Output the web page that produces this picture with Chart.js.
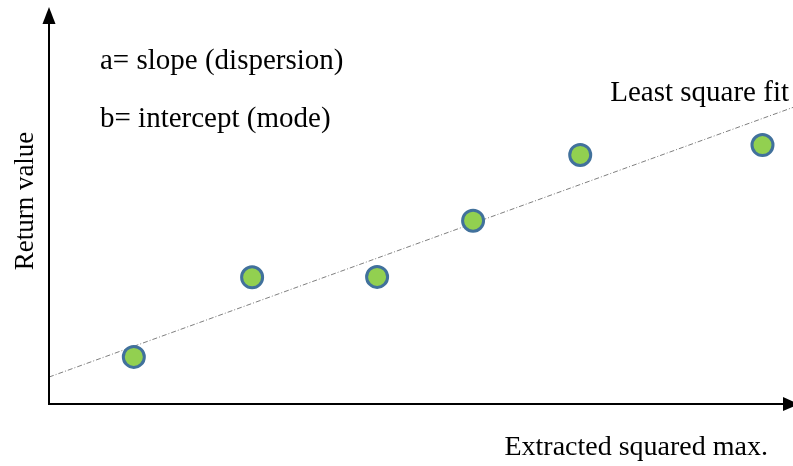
<!DOCTYPE html>
<html>
<head>
<meta charset="utf-8">
<script src="https://cdn.jsdelivr.net/npm/chart.js@4/dist/chart.umd.min.js"></script>
<style>
  html, body { margin: 0; padding: 0; background: #ffffff; overflow: hidden; }
  canvas { display: block; }
</style>
</head>
<body>
<canvas id="c" width="793" height="466" style="width:793px;height:466px"></canvas>
<script>
const pointX = [1.14, 2.73, 4.41, 5.70, 7.14, 9.59];
const pointY = [1.19, 3.20, 3.21, 4.63, 6.29, 6.54];
// Least-square fit line end points
const fitX = [0, 10];
const fitY = [0.68, 7.49];

const xLabel = 'Extracted squared max.';
const yLabel = 'Return value';
const noteA = 'a= slope (dispersion)';
const noteB = 'b= intercept (mode)';
const fitLabel = 'Least square fit';

const FONT = '"Liberation Serif", "Times New Roman", serif';

const decorPlugin = {
  id: 'decor',
  afterDraw(chart) {
    const ctx = chart.ctx;
    const a = chart.chartArea;
    ctx.save();
    // axes
    ctx.strokeStyle = '#000';
    ctx.fillStyle = '#000';
    ctx.lineWidth = 2;
    const ox = a.left, oy = a.bottom;
    ctx.beginPath();
    ctx.moveTo(ox, oy);
    ctx.lineTo(ox, a.top + 14);
    ctx.moveTo(ox - 1, oy);
    ctx.lineTo(a.right - 10, oy);
    ctx.stroke();
    // y arrow
    ctx.beginPath();
    ctx.moveTo(ox, a.top - 1);
    ctx.lineTo(ox - 6.5, a.top + 16);
    ctx.lineTo(ox + 6.5, a.top + 16);
    ctx.closePath();
    ctx.fill();
    // x arrow
    ctx.beginPath();
    ctx.moveTo(a.right + 6, oy);
    ctx.lineTo(a.right - 10, oy - 7);
    ctx.lineTo(a.right - 10, oy + 7);
    ctx.closePath();
    ctx.fill();

    // texts
    ctx.fillStyle = '#000';
    ctx.textBaseline = 'alphabetic';
    ctx.font = '29px ' + FONT;
    ctx.textAlign = 'left';
    ctx.fillText(noteA, 100, 69);
    ctx.fillText(noteB, 100, 127);
    ctx.textAlign = 'right';
    ctx.fillText(fitLabel, 789, 101);
    ctx.font = '28px ' + FONT;
    ctx.fillText(xLabel, 768, 455);
    // y label rotated
    ctx.save();
    ctx.font = '27px ' + FONT;
    ctx.translate(33, 201);
    ctx.rotate(-Math.PI / 2);
    ctx.textAlign = 'center';
    ctx.fillText(yLabel, 0, 0);
    ctx.restore();
    ctx.restore();
  }
};

new Chart(document.getElementById('c'), {
  type: 'scatter',
  data: {
    datasets: [
      {
        label: 'fit',
        type: 'line',
        data: fitX.map((x, i) => ({ x: x, y: fitY[i] })),
        borderColor: '#7f7f7f',
        borderWidth: 1,
        borderDash: [5, 2, 1, 2],
        pointRadius: 0,
        fill: false,
        clip: false,
        order: 2
      },
      {
        label: 'points',
        data: pointX.map((x, i) => ({ x: x, y: pointY[i] })),
        backgroundColor: '#92D050',
        borderColor: '#41719C',
        borderWidth: 3,
        pointRadius: 10.5,
        pointHoverRadius: 10.5,
        clip: false,
        order: 1
      }
    ]
  },
  options: {
    responsive: false,
    maintainAspectRatio: false,
    devicePixelRatio: 1,
    animation: false,
    layout: { autoPadding: false, padding: { left: 49, right: 0, top: 8, bottom: 62 } },
    plugins: { legend: { display: false }, tooltip: { enabled: false } },
    scales: {
      x: { type: 'linear', min: 0, max: 10, display: false },
      y: { type: 'linear', min: 0, max: 10, display: false }
    }
  },
  plugins: [decorPlugin]
});
</script>
</body>
</html>
